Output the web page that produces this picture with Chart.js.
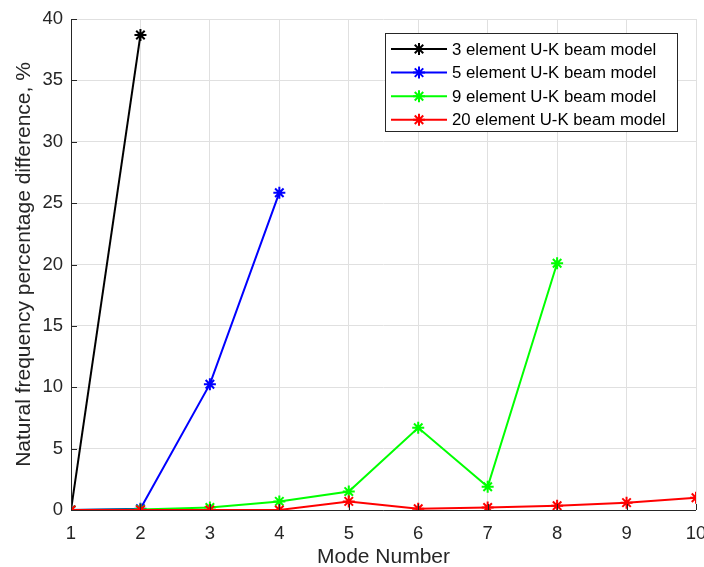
<!DOCTYPE html>
<html>
<head>
<meta charset="utf-8">
<script src="https://cdn.jsdelivr.net/npm/chart.js@4"></script>
<style>
  html, body { margin: 0; padding: 0; background: #fff; }
  #wrap { width: 704px; height: 567px; }
</style>
</head>
<body>
<div id="wrap"><canvas id="chart" width="704" height="567"></canvas></div>
<script>
// mode numbers on the x axis
const modes = [1, 2, 3, 4, 5, 6, 7, 8, 9, 10]

// percentage differences per model
const elem3 = [0, 38.7]
const elem5 = [0, 0.1, 10.25, 25.85]
const elem9 = [0, 0.05, 0.2, 0.7, 1.5, 6.7, 1.9, 20.1]
const elem20 = [0, 0, 0, 0, 0.7, 0.1, 0.2, 0.35, 0.6, 1.0]

const seriesNames = [
	'3 element U-K beam model',
	'5 element U-K beam model',
	'9 element U-K beam model',
	'20 element U-K beam model'
]
const seriesColors = ['#000000', '#0000ff', '#00ff00', '#ff0000']
const yTicks = [0, 5, 10, 15, 20, 25, 30, 35, 40]

const FONT = 'Liberation Sans, Arial, Helvetica, sans-serif'
const AXIS = '#262626'

const toPoints = vals => vals.map((v, i) => ({ x: modes[i], y: v }))

const makeSet = (i, vals) => ({
	label: seriesNames[i],
	data: toPoints(vals),
	borderColor: seriesColors[i],
	backgroundColor: seriesColors[i],
	borderWidth: 2,
	pointStyle: 'star',
	pointRadius: 6,
	pointBorderWidth: 2,
	pointHoverRadius: 6,
	tension: 0,
	order: 3 - i
})

// MATLAB-like axes: left/bottom lines with inward ticks
const axesPlugin = {
	id: 'axesPlugin',
	afterDatasetsDraw(chart) {
		const { ctx, chartArea: a, scales } = chart
		const xs = scales.x, ys = scales.y
		ctx.save()
		ctx.strokeStyle = AXIS
		ctx.lineWidth = 1
		ctx.beginPath()
		ctx.moveTo(a.left + 0.5, a.top)
		ctx.lineTo(a.left + 0.5, a.bottom + 0.5)
		ctx.lineTo(a.right, a.bottom + 0.5)
		modes.forEach(m => {
			const px = Math.round(xs.getPixelForValue(m)) + 0.5
			ctx.moveTo(px, a.bottom)
			ctx.lineTo(px, a.bottom - 6)
		})
		yTicks.forEach(t => {
			const py = Math.round(ys.getPixelForValue(t)) + 0.5
			ctx.moveTo(a.left, py)
			ctx.lineTo(a.left + 6, py)
		})
		ctx.stroke()
		ctx.restore()
	}
}

// legend box with line + marker samples
const legendPlugin = {
	id: 'legendPlugin',
	afterDraw(chart) {
		const { ctx } = chart
		const x0 = 385.5, y0 = 33.5, w = 292, h = 98
		ctx.save()
		ctx.fillStyle = '#ffffff'
		ctx.fillRect(x0, y0, w, h)
		ctx.strokeStyle = '#262626'
		ctx.lineWidth = 1
		ctx.strokeRect(x0, y0, w, h)
		ctx.font = '16.8px ' + FONT
		ctx.textBaseline = 'middle'
		seriesNames.forEach((name, i) => {
			const cy = 49 + i * 23.6
			ctx.strokeStyle = seriesColors[i]
			ctx.lineWidth = 2
			ctx.beginPath()
			ctx.moveTo(391, cy)
			ctx.lineTo(447, cy)
			ctx.stroke()
			// asterisk marker
			const mx = 419, r = 6
			ctx.beginPath()
			for (let k = 0; k < 4; k++) {
				const ang = k * Math.PI / 4
				ctx.moveTo(mx - r * Math.cos(ang), cy - r * Math.sin(ang))
				ctx.lineTo(mx + r * Math.cos(ang), cy + r * Math.sin(ang))
			}
			ctx.stroke()
			ctx.fillStyle = '#000000'
			ctx.fillText(name, 452, cy + 1)
		})
		ctx.restore()
	}
}

new Chart(document.getElementById('chart'), {
	type: 'line',
	data: {
		datasets: [
			makeSet(0, elem3),
			makeSet(1, elem5),
			makeSet(2, elem9),
			makeSet(3, elem20)
		]
	},
	options: {
		responsive: false,
		animation: false,
		layout: { padding: { left: 0, right: 7, top: 19, bottom: 0 } },
		plugins: {
			legend: { display: false },
			tooltip: { enabled: false }
		},
		scales: {
			x: {
				type: 'linear',
				min: 1,
				max: 10,
				afterBuildTicks: s => { s.ticks = modes.map(v => ({ value: v })) },
				afterFit: s => { s.height = 57; s.paddingLeft = 0; s.paddingRight = 0 },
				grid: { color: '#e0e0e0', drawTicks: false, lineWidth: 1 },
				border: { display: false },
				ticks: { color: AXIS, font: { family: FONT, size: 18.5 }, padding: 13, maxRotation: 0 },
				title: { display: true, text: 'Mode Number', color: AXIS, font: { family: FONT, size: 21 }, padding: { top: 0, bottom: -3 } }
			},
			y: {
				min: 0,
				max: 40,
				afterBuildTicks: s => { s.ticks = yTicks.map(v => ({ value: v })) },
				afterFit: s => { s.width = 71; s.paddingTop = 0; s.paddingBottom = 0 },
				grid: { color: '#e0e0e0', drawTicks: false, lineWidth: 1 },
				border: { display: false },
				ticks: { color: AXIS, font: { family: FONT, size: 18.5 }, padding: 8 },
				title: { display: true, text: 'Natural frequency percentage difference, %', color: AXIS, font: { family: FONT, size: 21 }, padding: { top: 12, bottom: 0 } }
			}
		}
	},
	plugins: [axesPlugin, legendPlugin]
})
</script>
</body>
</html>
